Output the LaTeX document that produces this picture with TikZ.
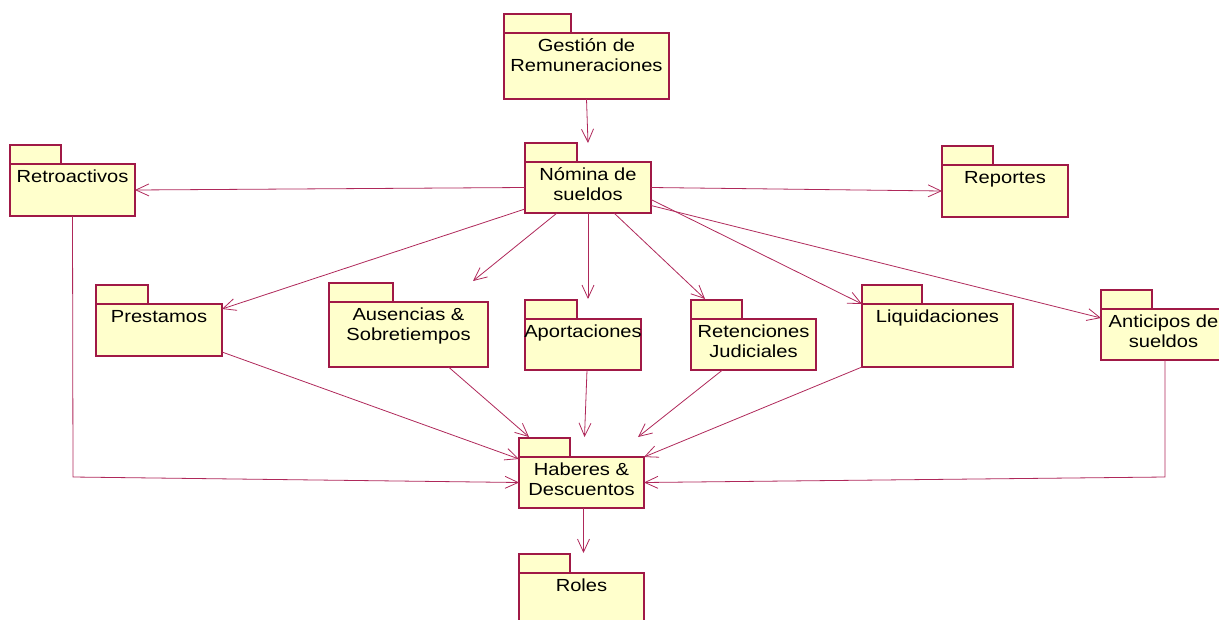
\documentclass[tikz,border=0pt]{standalone}
\usepackage{fontspec}
\setmainfont{Liberation Sans}[FakeStretch=1.15]
\usetikzlibrary{arrows.meta,calc}
\definecolor{pkline}{RGB}{160,25,70}
\definecolor{cnline}{RGB}{175,40,90}
\definecolor{pkfill}{RGB}{255,255,204}
\tikzset{
 pkbody/.style={draw=pkline, fill=pkfill, line width=1.1pt, inner sep=0pt, outer sep=0pt, anchor=north west, rectangle},
 pktab/.style={draw=pkline, fill=pkfill, line width=1.1pt},
 pklabel/.style={anchor=north, inner sep=0pt, align=center, font=\fontsize{17.5}{19.5}\selectfont},
 dep/.style={draw=cnline, line width=0.8pt, -{Straight Barb[length=13pt,width=12pt,line width=0.8pt]}},
}
\newcommand\pkgbox[7]{%
 \draw[pktab] (#2,#3) rectangle ++(#6,-19);
 \node[pkbody, minimum width=#4pt, minimum height=#5pt] (#1) at (#2,#3) {};
 \node[pklabel] (#1T) at ($(#1.north)+(0,4.9)$) {\strut #7};
}
\begin{document}
\begin{tikzpicture}[x=1pt,y=-1pt]
\useasboundingbox (0,0) rectangle (1219,619);
\pkgbox{gest}{504}{33}{165}{66}{67}{Gestión de\\Remuneraciones}
\pkgbox{retro}{10}{164}{125}{52}{51}{Retroactivos}
\pkgbox{nom}{525}{162}{126}{51}{52}{Nómina de\\sueldos}
\pkgbox{rep}{942}{165}{126}{52}{51}{Reportes}
\pkgbox{prest}{96}{304}{126}{52}{52}{Prestamos}
\pkgbox{aus}{329}{302}{159}{65}{64}{Ausencias \&\\Sobretiempos}
\pkgbox{apor}{525}{319}{116}{51}{52}{Aportaciones}
\pkgbox{ret}{691}{319}{125}{51}{51}{Retenciones\\Judiciales}
\pkgbox{liq}{862}{304}{151}{63}{60}{Liquidaciones}
\pkgbox{ant}{1101}{309}{125}{51}{51}{Anticipos de\\sueldos}
\pkgbox{hab}{519}{457}{125}{51}{51}{Haberes \&\\Descuentos}
\pkgbox{roles}{519}{573}{125}{60}{51}{Roles}
\coordinate (rb) at (73,477);
\coordinate (ab) at (1165,477);
\draw[dep] (gest.south) -- ($(nom.north)+(0,-19)$);
\draw[dep] (nom.west) -- (retro.east);
\draw[dep] (nom.east) -- (rep.west);
\draw[dep] ($(nom.south west)+(0,-4)$) -- ($(prest.north east)+(0,5)$);
\draw[dep] ($(nom.south)+(-31,0)$) -- ($(aus.north east)+(-15,-21)$);
\draw[dep] (nom.south) -- ($(nom.south |- apor.north)+(0,-20)$);
\draw[dep] ($(nom.south)+(26,0)$) -- ($(ret.north west)+(14,-20)$);
\draw[dep] ($(nom.east)+(0,12)$) -- (liq.north west);
\draw[dep] ($(nom.east)+(0,18)$) -- ($(ant.north west)+(0,9)$);
\draw[dep] (retro.south) -- (rb) -- (hab.west);
\draw[dep] ($(ant.south)+(1.5,0)$) -- (ab) -- (hab.east);
\draw[dep] ($(prest.south east)+(0,-4)$) -- ($(hab.north west)+(0,2)$);
\draw[dep] ($(aus.south)+(40,0)$) -- ($(hab.north west)+(10,-20)$);
\draw[dep] ($(apor.south)+(4,0)$) -- ($(hab.north)+(3,-20)$);
\draw[dep] ($(ret.south)+(-31,0)$) -- ($(hab.north east)+(-6,-20)$);
\draw[dep] (liq.south west) -- (hab.north east);
\draw[dep] ($(hab.south)+(2,0)$) -- ($(roles.north)+(2,-20)$);
\end{tikzpicture}
\end{document}
